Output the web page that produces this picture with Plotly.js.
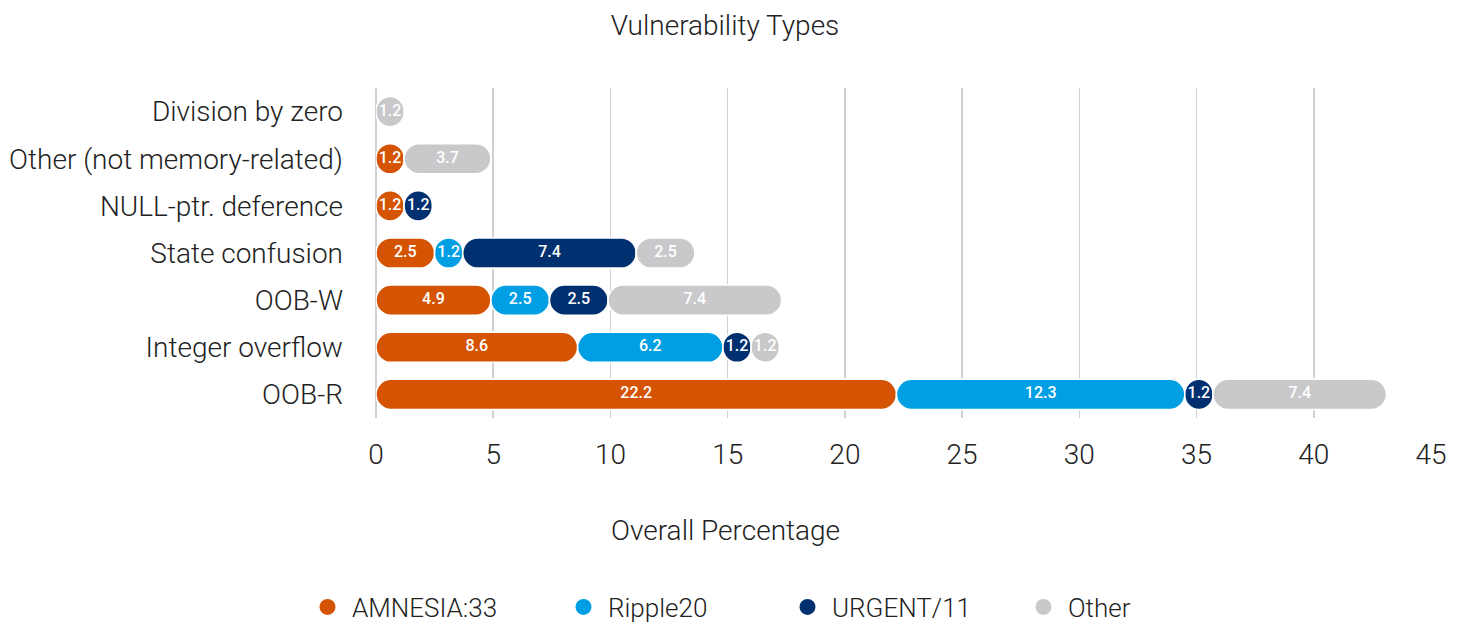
<!DOCTYPE html>
<html>
<head>
<meta charset="utf-8">
<script src="https://cdn.plot.ly/plotly-3.0.1.min.js"></script>
<style>html,body{margin:0;padding:0;background:#fff;}#chart{width:1461px;height:622px;}</style>
</head>
<body>
<div id="chart"></div>
<script>
const categories = ["Division by zero","Other (not memory-related)","NULL-ptr. deference","State confusion","OOB-W","Integer overflow","OOB-R"];
const seriesNames = ["AMNESIA:33","Ripple20","URGENT/11","Other"];
const amnesia = [0,1.2,1.2,2.5,4.9,8.6,22.2];
const ripple  = [0,0,0,1.2,2.5,6.2,12.3];
const urgent  = [0,0,1.2,7.4,2.5,1.2,1.2];
const other   = [1.2,3.7,0,2.5,7.4,1.2,7.4];
const xTicks = [0,5,10,15,20,25,30,35,40,45];
const colors = ["#D45404","#009FE3","#00306F","#C9C8CB"];

const FONT = "Roboto, sans-serif";
const series = [amnesia, ripple, urgent, other];
const cum = categories.map(() => 0);
const traces = [];
const labelX = [], labelY = [], labelT = [];
series.forEach((vals, si) => {
  const starts = vals.map((v, i) => cum[i]);
  const ends = vals.map((v, i) => cum[i] + v);
  vals.forEach((v, i) => {
    if (v > 0) { labelX.push(cum[i] + v / 2); labelY.push(categories[i]); labelT.push(v.toFixed(1)); }
    cum[i] += v;
  });
  const common = {
    type: 'bar', orientation: 'h', y: categories,
    marker: {color: colors[si], cornerradius: '50%', line: {color: '#ffffff', width: 1.5}},
    showlegend: false, hoverinfo: 'skip'
  };
  // reverse half (rounded left end)
  traces.push(Object.assign({}, common, {x: vals.map(v => v > 0 ? -v : null), base: ends}));
  // forward half (rounded right end)
  traces.push(Object.assign({}, common, {x: vals.map(v => v > 0 ? v : null), base: starts}));
});

// segment value labels
traces.push({type: 'scatter', mode: 'text', x: labelX, y: labelY, text: labelT,
  textposition: 'middle center', showlegend: false, hoverinfo: 'skip',
  textfont: {family: FONT, size: 16, color: '#ffffff', weight: 500}});

// legend entries (circle markers), each in its own legend for exact placement
const legendX = [303, 559, 783, 1019];
const layoutLegends = {};
seriesNames.forEach((n, si) => {
  const key = si === 0 ? 'legend' : 'legend' + (si + 1);
  traces.push({type: 'scatter', mode: 'markers', x: [null], y: [null], name: n,
    marker: {color: colors[si], size: 17, symbol: 'circle'},
    showlegend: true, legend: key, hoverinfo: 'skip'});
  layoutLegends[key] = {
    xref: 'container', yref: 'container',
    x: legendX[si] / 1461, xanchor: 'left',
    y: 1 - 607 / 622, yanchor: 'middle',
    orientation: 'h', bgcolor: 'rgba(0,0,0,0)', itemwidth: 39,
    font: {family: FONT, size: 26, color: '#222', weight: 300}
  };
});

const layout = Object.assign({
  width: 1461, height: 622,
  margin: {l: 376, r: 30, t: 88, b: 204, autoexpand: false},
  paper_bgcolor: '#fff', plot_bgcolor: '#fff',
  barmode: 'overlay', bargap: 0.36,
  title: {text: 'Vulnerability Types', x: 725/1461, xanchor: 'center', y: 1 - 25/622, yanchor: 'middle',
    font: {family: FONT, size: 28, color: '#222', weight: 300}},
  xaxis: {range: [0, 45], tickvals: xTicks, ticktext: xTicks.map(String),
    showgrid: true, gridcolor: '#D0D0D0', gridwidth: 1.5, zeroline: true, zerolinecolor: '#D0D0D0', zerolinewidth: 1.5,
    showline: false, ticks: '', ticklabelstandoff: 17,
    tickfont: {family: FONT, size: 28, color: '#222', weight: 300}, fixedrange: true},
  yaxis: {type: 'category', categoryorder: 'array', categoryarray: categories, autorange: 'reversed',
    showgrid: false, zeroline: false, showline: false, ticks: '', ticklabelstandoff: 32,
    tickfont: {family: FONT, size: 28, color: '#222', weight: 300}, fixedrange: true},
  annotations: [{text: 'Overall Percentage', xref: 'paper', yref: 'paper',
    x: (725 - 376) / 1055, y: (418 - 530) / 330, xanchor: 'center', yanchor: 'middle', showarrow: false,
    font: {family: FONT, size: 28, color: '#222', weight: 300}}],
  showlegend: true
}, layoutLegends);

Plotly.newPlot('chart', traces, layout, {displayModeBar: false, staticPlot: true});
</script>
</body>
</html>
